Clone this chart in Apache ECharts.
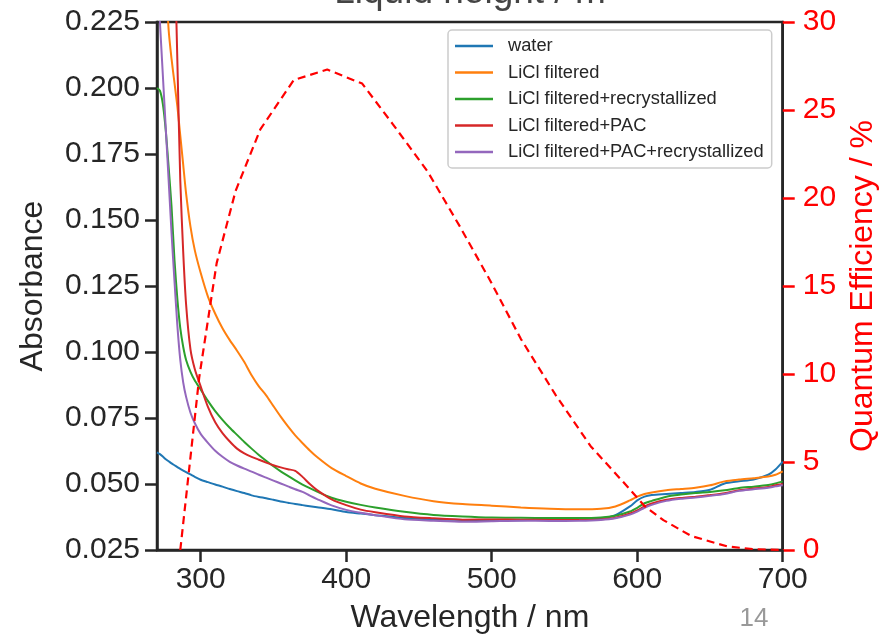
<!DOCTYPE html>
<html>
<head>
<meta charset="utf-8">
<script src="https://cdn.jsdelivr.net/npm/echarts@6/dist/echarts.min.js"></script>
<style>
html,body{margin:0;padding:0;background:#fff;}
#chart{width:887px;height:640px;}
</style>
</head>
<body>
<div id="chart"></div>
<script>
// ---------- data ----------
const wavelength = [270,272,274,276,278,280,282,284,286,288,290,293,296,300,305,310,315,320,325,330,335,340,345,350,355,360,365,370,375,380,390,400,410,420,440,460,480,500,520,540,560,575,585,595,600,605,610,620,630,640,650,660,670,680,690,695,700];

const water = [0.0620,0.0613,0.0604,0.0594,0.0586,0.0578,0.0571,0.0564,0.0557,0.0551,0.0545,0.0536,0.0527,0.0516,0.0507,0.0498,0.0490,0.0481,0.0473,0.0466,0.0457,0.0451,0.0446,0.0440,0.0434,0.0429,0.0424,0.0420,0.0416,0.0412,0.0404,0.0394,0.0388,0.0382,0.0371,0.0366,0.0364,0.0362,0.0363,0.0366,0.0368,0.0370,0.0382,0.0415,0.0438,0.0452,0.0458,0.0462,0.0466,0.0470,0.0478,0.0502,0.0510,0.0517,0.0535,0.0555,0.0585];

const licl = [0.320,0.295,0.268,0.243,0.222,0.211,0.202,0.193,0.182,0.171,0.160,0.1475,0.1385,0.130,0.121,0.1145,0.109,0.1045,0.1005,0.0962,0.0912,0.0870,0.0836,0.0795,0.0755,0.0718,0.0684,0.0655,0.0627,0.0602,0.0560,0.0530,0.0502,0.0482,0.0455,0.0435,0.0424,0.0418,0.0411,0.0406,0.0404,0.0406,0.0415,0.0438,0.0452,0.0462,0.0468,0.0476,0.0481,0.0486,0.0495,0.0510,0.0517,0.0522,0.0528,0.0535,0.0548];

const liclRecryst = [0.200,0.199,0.194,0.184,0.170,0.155,0.135,0.120,0.109,0.102,0.097,0.0925,0.0892,0.0858,0.0815,0.0776,0.0743,0.0713,0.0686,0.0659,0.0634,0.0610,0.0588,0.0567,0.0548,0.0531,0.0514,0.0498,0.0484,0.0471,0.0448,0.0433,0.0421,0.0411,0.0395,0.0383,0.0377,0.0373,0.0372,0.0371,0.0371,0.0373,0.0380,0.0396,0.0410,0.0427,0.0436,0.0452,0.0460,0.0466,0.0470,0.0476,0.0485,0.0490,0.0496,0.0502,0.0510];

const liclPac = [0.420,0.400,0.380,0.350,0.320,0.290,0.255,0.210,0.165,0.138,0.118,0.101,0.0935,0.0870,0.0792,0.0734,0.0693,0.0661,0.0634,0.0616,0.0603,0.0592,0.0581,0.0571,0.0563,0.0556,0.0550,0.0527,0.0500,0.0477,0.0442,0.0420,0.0403,0.0393,0.0377,0.0370,0.0365,0.0366,0.0365,0.0364,0.0364,0.0366,0.0372,0.0388,0.0400,0.0415,0.0426,0.0440,0.0447,0.0452,0.0458,0.0465,0.0476,0.0483,0.0489,0.0495,0.0500];

const liclPacRecryst = [0.245,0.225,0.205,0.185,0.165,0.145,0.127,0.110,0.097,0.0885,0.0830,0.0770,0.0730,0.0690,0.0656,0.0626,0.0603,0.0584,0.0570,0.0558,0.0547,0.0535,0.0524,0.0513,0.0502,0.0491,0.0480,0.0470,0.0456,0.0443,0.0419,0.0402,0.0391,0.0382,0.0366,0.0361,0.0357,0.0359,0.0361,0.0360,0.0361,0.0364,0.0370,0.0384,0.0395,0.0410,0.0421,0.0436,0.0444,0.0449,0.0455,0.0462,0.0474,0.0480,0.0486,0.0491,0.0495];

const qeWavelength = [286,299,311,324,341,364,387,411,432,456,478,499,520,544,568,590,605,618,637,662,680,700];
const quantumEfficiency = [0,9.8,16.3,20.4,23.9,26.7,27.3,26.5,24.2,21.5,18.4,15.3,12.0,8.8,5.9,3.9,2.5,1.7,0.8,0.2,0.05,0.0];

const seriesNames = ['water','LiCl filtered','LiCl filtered+recrystallized','LiCl filtered+PAC','LiCl filtered+PAC+recrystallized'];
const seriesValues = [water, licl, liclRecryst, liclPac, liclPacRecryst];
const seriesColors = ['#1f77b4','#ff7f0e','#2ca02c','#d62728','#9467bd'];

const xTicks = [300,400,500,600,700];
const titleText = 'Liquid height / m';
const pageNumber = '14';

// ---------- chart ----------
const FONT = '"Liberation Sans", Arial, Helvetica, sans-serif';
const DARK = '#262626';
const chart = echarts.init(document.getElementById('chart'), null, {renderer:'canvas'});

const absSeries = seriesNames.map((name, k) => ({
  name: name,
  type: 'line',
  xAxisIndex: 0,
  yAxisIndex: 0,
  data: wavelength.map((w, i) => [w, seriesValues[k][i]]),
  symbol: 'none',
  smooth: 0.25,
  clip: true,
  lineStyle: {color: seriesColors[k], width: 2},
  itemStyle: {color: seriesColors[k]},
  z: 3 + k,
  animation: false
}));

const qeSeries = {
  name: 'QE',
  type: 'line',
  yAxisIndex: 1,
  data: qeWavelength.map((w, i) => [w, quantumEfficiency[i]]),
  symbol: 'none',
  clip: true,
  lineStyle: {color: '#ff0000', width: 2.2, type: [8, 5]},
  z: 10,
  animation: false
};

const option = {
  animation: false,
  backgroundColor: '#ffffff',
  textStyle: {fontFamily: FONT},
  grid: {
    left: 157, right: 104, top: 22, bottom: 90,
    show: true, borderColor: DARK, borderWidth: 2.5, backgroundColor: 'transparent'
  },
  legend: {
    data: seriesNames,
    orient: 'vertical',
    left: 448, top: 30,
    padding: [7, 8, 7, 7],
    itemWidth: 38, itemHeight: 2.5, icon: 'rect',
    itemGap: 8.5,
    selectedMode: false,
    backgroundColor: '#ffffff',
    borderColor: '#cccccc', borderWidth: 1.5, borderRadius: 4,
    textStyle: {fontFamily: FONT, fontSize: 18.3, color: DARK, lineHeight: 18, padding: [0, 0, 0, 10]}
  },
  xAxis: {
    type: 'value', min: 270, max: 700,
    name: 'Wavelength / nm', nameLocation: 'middle', nameGap: 52,
    nameTextStyle: {fontFamily: FONT, fontSize: 32, color: DARK},
    axisLine: {show: true, lineStyle: {color: DARK, width: 2.5}},
    axisTick: {show: true, length: 12, lineStyle: {color: DARK, width: 2.5}, customValues: xTicks},
    axisLabel: {fontFamily: FONT, fontSize: 30, color: DARK, margin: 15, customValues: xTicks},
    splitLine: {show: false}
  },
  yAxis: [{
    type: 'value', min: 0.025, max: 0.225, interval: 0.025,
    name: 'Absorbance', nameLocation: 'middle', nameGap: 108,
    nameTextStyle: {fontFamily: FONT, fontSize: 32, color: DARK},
    axisLine: {show: true, lineStyle: {color: DARK, width: 2.5}},
    axisTick: {show: true, length: 12, lineStyle: {color: DARK, width: 2.5}},
    axisLabel: {fontFamily: FONT, fontSize: 30, color: DARK, margin: 17,
      formatter: v => v.toFixed(3)},
    splitLine: {show: false}
  }, {
    type: 'value', min: 0, max: 30, interval: 5, position: 'right',
    name: 'Quantum Efficiency / %', nameLocation: 'middle', nameGap: 62,
    nameTextStyle: {fontFamily: FONT, fontSize: 32, color: '#ff0000'},
    axisLine: {show: true, lineStyle: {color: DARK, width: 2.5}},
    axisTick: {show: true, length: 12, lineStyle: {color: '#ff0000', width: 2.5}},
    axisLabel: {fontFamily: FONT, fontSize: 30, color: '#ff0000', margin: 20},
    splitLine: {show: false}
  }],
  graphic: [{
    type: 'text', x: 470, y: 11,
    style: {text: titleText, fontFamily: FONT, fontSize: 37, fill: '#444444',
      textAlign: 'center', textVerticalAlign: 'bottom'}
  }, {
    type: 'text', x: 754, y: 619,
    style: {text: pageNumber, fontFamily: FONT, fontSize: 26, fill: '#999999',
      textAlign: 'center', textVerticalAlign: 'middle'}
  }],
  series: absSeries.concat([qeSeries])
};
chart.setOption(option);
</script>
</body>
</html>
